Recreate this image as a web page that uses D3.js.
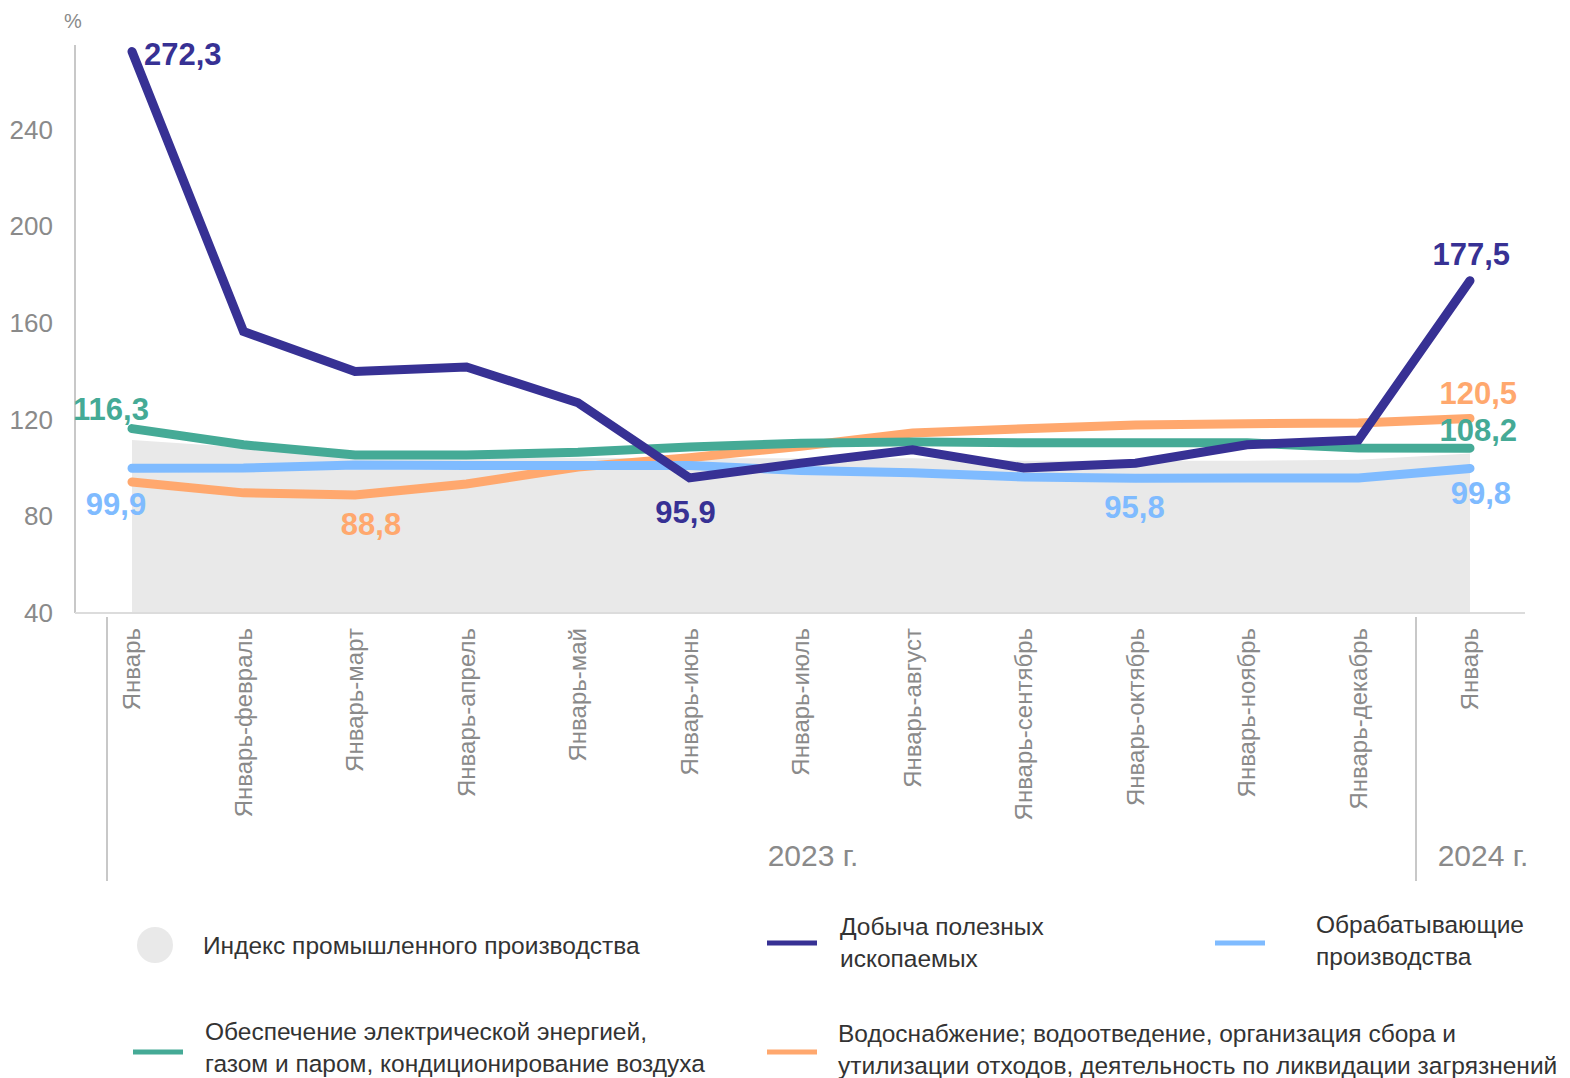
<!DOCTYPE html>
<html>
<head>
<meta charset="utf-8">
<script src="https://cdn.jsdelivr.net/npm/d3@7"></script>
<style>
  body { margin: 0; background: #fff; }
  svg { display: block; font-family: "Liberation Sans", Arial, sans-serif; }
</style>
</head>
<body>
<svg id="chart" width="1570" height="1078"></svg>
<script>
// categories
var periods = ['Январь', 'Январь-февраль', 'Январь-март', 'Январь-апрель', 'Январь-май',
  'Январь-июнь', 'Январь-июль', 'Январь-август', 'Январь-сентябрь', 'Январь-октябрь',
  'Январь-ноябрь', 'Январь-декабрь', 'Январь'];
var yearLabels = ['2023 г.', '2024 г.'];
var yTicks = [40, 80, 120, 160, 200, 240];

// series values (%)
var indexProd = [111.6, 108.5, 105, 104.5, 104.2, 104, 104, 104, 103, 103, 103, 103.4, 106];
var mining = [272.3, 156.5, 139.9, 141.8, 127, 95.9, 102, 107.5, 100, 102, 109.6, 111.6, 177.5];
var manufacturing = [99.9, 100, 101.2, 101, 101, 101, 99, 98, 96.3, 95.8, 95.9, 95.9, 99.8];
var energy = [116.3, 109.6, 105.4, 105.4, 106.5, 108.7, 110.2, 110.8, 110.4, 110.4, 110.4, 108.3, 108.2];
var water = [94.2, 89.7, 88.8, 93.4, 100.4, 104.2, 109, 114.5, 116.2, 117.8, 118.3, 118.6, 120.5];

var series = [
  { name: 'water', values: water, color: '#ffa86e' },
  { name: 'manufacturing', values: manufacturing, color: '#7fbbff' },
  { name: 'energy', values: energy, color: '#45aa96' },
  { name: 'mining', values: mining, color: '#373194' }
];

// labels: [series values, index, dx, dy, anchor]
var valueLabels = [
  [mining, 0, 12, 13, 'start'],
  [mining, 12, 40, -16, 'end'],
  [mining, 5, -4, 45, 'middle'],
  [energy, 0, -21, -9, 'middle'],
  [energy, 12, 47, -7, 'end'],
  [manufacturing, 0, -16, 47, 'middle'],
  [manufacturing, 9, -1, 40, 'middle'],
  [manufacturing, 12, 41, 36, 'end'],
  [water, 2, 16, 40, 'middle'],
  [water, 12, 47, -14, 'end']
];
var labelColors = new Map([[mining, '#373194'], [energy, '#45aa96'], [manufacturing, '#7fbbff'], [water, '#ffa86e']]);

var svg = d3.select('#chart');

var x = d3.scalePoint().domain(d3.range(periods.length)).range([132, 1470]);
var y = d3.scaleLinear().domain([40, 275]).range([613, 45]);

// area for industrial production index
var area = d3.area()
  .x(function(d, i) { return x(i); })
  .y0(y(40))
  .y1(function(d) { return y(d); });
svg.append('path')
  .attr('d', area(indexProd))
  .attr('fill', '#e9e9e9');

// y axis
svg.append('line')
  .attr('x1', 75).attr('x2', 75)
  .attr('y1', 45).attr('y2', 613)
  .attr('stroke', '#c8c8c8').attr('stroke-width', 2);
svg.append('line')
  .attr('x1', 75).attr('x2', 1525)
  .attr('y1', 613).attr('y2', 613)
  .attr('stroke', '#dcdcdc').attr('stroke-width', 2);

svg.selectAll('.ytick')
  .data(yTicks)
  .enter().append('text')
  .attr('class', 'ytick')
  .attr('x', 53)
  .attr('y', function(d) { return y(d) + 9; })
  .attr('text-anchor', 'end')
  .style('font-size', '26px')
  .style('fill', '#8a8a8a')
  .text(function(d) { return d; });

svg.append('text')
  .attr('x', 73).attr('y', 28)
  .attr('text-anchor', 'middle')
  .style('font-size', '20px')
  .style('fill', '#8a8a8a')
  .text('%');

// x category labels
svg.selectAll('.xlab')
  .data(periods)
  .enter().append('text')
  .attr('class', 'xlab')
  .attr('transform', function(d, i) { return 'translate(' + (x(i) + 8) + ',628) rotate(-90)'; })
  .attr('text-anchor', 'end')
  .style('font-size', '24px')
  .style('fill', '#8a8a8a')
  .text(function(d) { return d; });

// year separators
[107, 1416].forEach(function(px) {
  svg.append('line')
    .attr('x1', px).attr('x2', px)
    .attr('y1', 617).attr('y2', 881)
    .attr('stroke', '#c8c8c8').attr('stroke-width', 2);
});
svg.append('text')
  .attr('x', 813).attr('y', 866)
  .attr('text-anchor', 'middle')
  .style('font-size', '30px')
  .style('fill', '#8a8a8a')
  .text(yearLabels[0]);
svg.append('text')
  .attr('x', 1483).attr('y', 866)
  .attr('text-anchor', 'middle')
  .style('font-size', '30px')
  .style('fill', '#8a8a8a')
  .text(yearLabels[1]);

// lines
var line = d3.line()
  .x(function(d, i) { return x(i); })
  .y(function(d) { return y(d); });

svg.selectAll('.series')
  .data(series)
  .enter().append('path')
  .attr('class', 'series')
  .attr('d', function(d) { return line(d.values); })
  .attr('fill', 'none')
  .attr('stroke', function(d) { return d.color; })
  .attr('stroke-width', 9)
  .attr('stroke-linecap', 'round')
  .attr('stroke-linejoin', 'miter');

// value labels
svg.selectAll('.vlab')
  .data(valueLabels)
  .enter().append('text')
  .attr('class', 'vlab')
  .attr('x', function(d) { return x(d[1]) + d[2]; })
  .attr('y', function(d) { return y(d[0][d[1]]) + d[3]; })
  .attr('text-anchor', function(d) { return d[4]; })
  .style('font-size', '31px')
  .style('font-weight', 'bold')
  .style('fill', function(d) { return labelColors.get(d[0]); })
  .text(function(d) { return String(d[0][d[1]].toFixed(1)).replace('.', ','); });

// legend
svg.append('circle')
  .attr('cx', 155).attr('cy', 945).attr('r', 18)
  .attr('fill', '#e9e9e9');

var legendItems = [
  { lx: 767, ly: 943, color: '#373194', tx: 840, lines: ['Добыча полезных', 'ископаемых'], ty: 935 },
  { lx: 1215, ly: 943, color: '#7fbbff', tx: 1316, lines: ['Обрабатывающие', 'производства'], ty: 933 },
  { lx: 133, ly: 1052, color: '#45aa96', tx: 205, lines: ['Обеспечение электрической энергией,', 'газом и паром, кондиционирование воздуха'], ty: 1040 },
  { lx: 767, ly: 1052, color: '#ffa86e', tx: 838, lines: ['Водоснабжение; водоотведение, организация сбора и', 'утилизации отходов, деятельность по ликвидации загрязнений'], ty: 1042 }
];

svg.append('text')
  .attr('x', 203).attr('y', 954)
  .style('font-size', '24.5px')
  .style('fill', '#333')
  .text('Индекс промышленного производства');

legendItems.forEach(function(it) {
  svg.append('line')
    .attr('x1', it.lx).attr('x2', it.lx + 50)
    .attr('y1', it.ly).attr('y2', it.ly)
    .attr('stroke', it.color).attr('stroke-width', 5);
  it.lines.forEach(function(t, i) {
    svg.append('text')
      .attr('x', it.tx).attr('y', it.ty + i * 32)
      .style('font-size', '24.5px')
      .style('fill', '#333')
      .text(t);
  });
});
</script>
</body>
</html>
